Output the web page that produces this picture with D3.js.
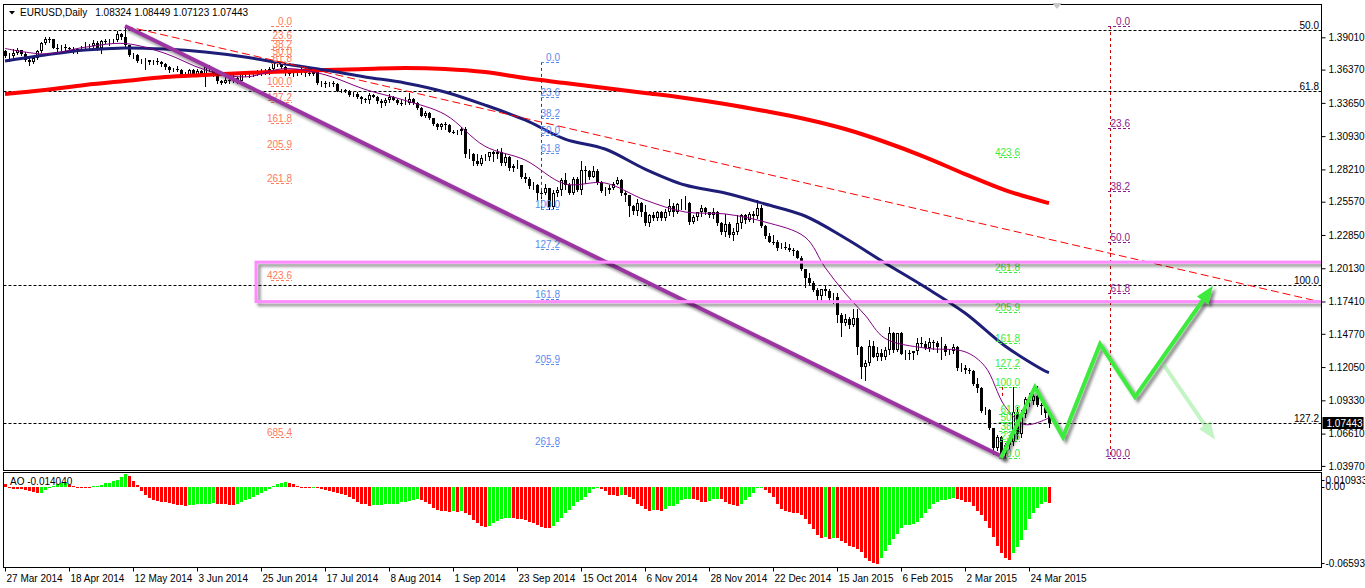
<!DOCTYPE html>
<html><head><meta charset="utf-8">
<script src="https://cdn.jsdelivr.net/npm/d3@7/dist/d3.min.js"></script>
<style>
html,body{margin:0;padding:0;background:#fff;}
svg{display:block;}
text{font-family:"Liberation Sans",Arial,sans-serif;font-size:10px;}
</style></head><body>
<svg id="c" width="1366" height="588"></svg>
<script>
// ---------------- DATA ----------------
const symbolTitle = "EURUSD,Daily";
const headerOHLC = ["1.08324","1.08449","1.07123","1.07443"];
const lastPrice = 1.07443;

const opens = [
1.3790,1.3745,1.3750,1.3770,1.3795,1.3765,1.3715,1.3700,1.3730,1.3790,
1.3855,1.3890,1.3885,1.3815,1.3812,1.3822,1.3815,1.3808,1.3790,1.3805,
1.3815,1.3825,1.3830,1.3855,1.3810,1.3870,1.3865,1.3872,1.3878,1.3925,
1.3905,1.3835,1.3755,1.3760,1.3705,1.3710,1.3712,1.3695,1.3710,1.3700,
1.3685,1.3660,1.3630,1.3640,1.3630,1.3595,1.3592,1.3635,1.3595,1.3625,
1.3600,1.3660,1.3640,1.3590,1.3545,1.3530,1.3548,1.3540,1.3570,1.3545,
1.3600,1.3610,1.3600,1.3605,1.3610,1.3620,1.3615,1.3645,1.3690,1.3680,
1.3655,1.3610,1.3605,1.3610,1.3615,1.3640,1.3610,1.3605,1.3615,1.3525,
1.3530,1.3522,1.3528,1.3520,1.3465,1.3468,1.3460,1.3430,1.3440,1.3410,
1.3395,1.3390,1.3430,1.3415,1.3380,1.3360,1.3385,1.3410,1.3390,1.3365,
1.3360,1.3365,1.3400,1.3365,1.3320,1.3260,1.3285,1.3240,1.3195,1.3165,
1.3195,1.3180,1.3130,1.3128,1.3135,1.3150,1.2945,1.2950,1.2890,1.2865,
1.2915,1.2925,1.2960,1.2950,1.2960,1.2870,1.2920,1.2830,1.2850,1.2855,
1.2760,1.2740,1.2685,1.2690,1.2630,1.2625,1.2665,1.2515,1.2630,1.2650,
1.2735,1.2690,1.2625,1.2745,1.2655,1.2820,1.2810,1.2760,1.2810,1.2715,
1.2645,1.2650,1.2670,1.2705,1.2735,1.2625,1.2610,1.2525,1.2480,1.2545,
1.2475,1.2380,1.2445,1.2420,1.2470,1.2420,1.2475,1.2525,1.2475,1.2535,
1.2540,1.2548,1.2390,1.2435,1.2470,1.2505,1.2470,1.2450,1.2470,1.2385,
1.2310,1.2375,1.2285,1.2310,1.2380,1.2445,1.2410,1.2460,1.2440,1.2505,
1.2360,1.2280,1.2230,1.2225,1.2180,1.2190,1.2180,1.2160,1.2155,1.2100,
1.2005,1.1935,1.1890,1.1835,1.1790,1.1840,1.1825,1.1770,1.1780,1.1630,
1.1565,1.1600,1.1545,1.1610,1.1365,1.1205,1.1240,1.1380,1.1290,1.1320,
1.1290,1.1345,1.1480,1.1345,1.1480,1.1315,1.1322,1.1318,1.1335,1.1400,
1.1390,1.1360,1.1410,1.1405,1.1370,1.1380,1.1325,1.1340,1.1365,1.1195,
1.1198,1.1185,1.1175,1.1070,1.1030,1.0845,1.0850,1.0705,1.0545,1.0635,
1.0495,1.0565,1.0595,1.0840,1.0660,1.0820,1.0940,1.0930,1.0970,1.0895,
1.0885,1.08324];
const highs = [
1.3800,1.3775,1.3805,1.3810,1.3800,1.3780,1.3735,1.3745,1.3800,1.3865,
1.3905,1.3905,1.3890,1.3850,1.3840,1.3850,1.3825,1.3820,1.3815,1.3830,
1.3860,1.3845,1.3875,1.3870,1.3880,1.3885,1.3890,1.3890,1.3950,1.3935,
1.3993,1.3840,1.3775,1.3765,1.3725,1.3735,1.3715,1.3715,1.3730,1.3705,
1.3690,1.3670,1.3650,1.3665,1.3640,1.3620,1.3640,1.3640,1.3640,1.3635,
1.3670,1.3675,1.3650,1.3600,1.3555,1.3575,1.3565,1.3590,1.3580,1.3610,
1.3615,1.3615,1.3615,1.3630,1.3645,1.3645,1.3660,1.3695,1.3700,1.3690,
1.3665,1.3615,1.3615,1.3630,1.3650,1.3650,1.3615,1.3625,1.3620,1.3545,
1.3545,1.3535,1.3540,1.3530,1.3480,1.3480,1.3470,1.3450,1.3450,1.3425,
1.3405,1.3445,1.3440,1.3420,1.3395,1.3405,1.3435,1.3420,1.3400,1.3385,
1.3410,1.3445,1.3405,1.3370,1.3330,1.3295,1.3290,1.3245,1.3200,1.3200,
1.3205,1.3190,1.3145,1.3140,1.3165,1.3165,1.2985,1.2955,1.2945,1.2940,
1.2945,1.2965,1.2975,1.2990,1.2995,1.2950,1.2930,1.2865,1.2895,1.2860,
1.2790,1.2755,1.2715,1.2700,1.2650,1.2700,1.2670,1.2650,1.2680,1.2750,
1.2790,1.2710,1.2760,1.2760,1.2887,1.2845,1.2815,1.2850,1.2825,1.2725,
1.2680,1.2695,1.2715,1.2760,1.2745,1.2645,1.2615,1.2530,1.2575,1.2555,
1.2530,1.2455,1.2475,1.2485,1.2480,1.2500,1.2575,1.2545,1.2545,1.2575,
1.2600,1.2555,1.2450,1.2475,1.2530,1.2515,1.2475,1.2505,1.2480,1.2395,
1.2455,1.2390,1.2345,1.2445,1.2460,1.2455,1.2475,1.2480,1.2570,1.2530,
1.2365,1.2300,1.2285,1.2245,1.2220,1.2230,1.2210,1.2180,1.2165,1.2110,
1.2010,1.1970,1.1905,1.1850,1.1845,1.1865,1.1840,1.1810,1.1810,1.1645,
1.1640,1.1615,1.1680,1.1680,1.1380,1.1260,1.1425,1.1420,1.1365,1.1350,
1.1365,1.1535,1.1490,1.1485,1.1490,1.1345,1.1345,1.1340,1.1440,1.1450,
1.1415,1.1440,1.1425,1.1420,1.1450,1.1390,1.1350,1.1390,1.1380,1.1240,
1.1225,1.1200,1.1180,1.1115,1.1040,1.0875,1.0860,1.0710,1.0650,1.0645,
1.0585,1.0640,1.1040,1.0880,1.0855,1.0960,1.0990,1.0990,1.1050,1.0915,
1.0895,1.08449];
const lows = [
1.3740,1.3705,1.3735,1.3765,1.3755,1.3705,1.3672,1.3690,1.3725,1.3780,
1.3845,1.3860,1.3810,1.3790,1.3800,1.3800,1.3800,1.3775,1.3770,1.3795,
1.3800,1.3815,1.3825,1.3800,1.3775,1.3855,1.3840,1.3860,1.3870,1.3885,
1.3830,1.3750,1.3735,1.3700,1.3690,1.3645,1.3680,1.3680,1.3685,1.3670,
1.3640,1.3615,1.3625,1.3625,1.3585,1.3585,1.3590,1.3585,1.3590,1.3590,
1.3503,1.3625,1.3585,1.3530,1.3520,1.3525,1.3530,1.3535,1.3530,1.3535,
1.3585,1.3580,1.3585,1.3595,1.3595,1.3600,1.3600,1.3640,1.3670,1.3650,
1.3595,1.3595,1.3585,1.3590,1.3600,1.3585,1.3590,1.3595,1.3520,1.3500,
1.3495,1.3500,1.3505,1.3460,1.3455,1.3450,1.3420,1.3420,1.3405,1.3365,
1.3375,1.3365,1.3410,1.3365,1.3335,1.3345,1.3375,1.3385,1.3355,1.3345,
1.3355,1.3355,1.3355,1.3315,1.3255,1.3250,1.3235,1.3180,1.3150,1.3155,
1.3150,1.3125,1.3115,1.3110,1.3110,1.2920,1.2915,1.2860,1.2860,1.2855,
1.2900,1.2900,1.2890,1.2915,1.2860,1.2860,1.2815,1.2810,1.2830,1.2750,
1.2720,1.2665,1.2660,1.2570,1.2585,1.2620,1.2500,1.2500,1.2600,1.2615,
1.2660,1.2620,1.2620,1.2645,1.2620,1.2710,1.2745,1.2755,1.2700,1.2640,
1.2615,1.2630,1.2660,1.2700,1.2615,1.2565,1.2440,1.2455,1.2445,1.2440,
1.2370,1.2358,1.2410,1.2405,1.2405,1.2410,1.2445,1.2440,1.2465,1.2500,
1.2500,1.2375,1.2380,1.2405,1.2440,1.2460,1.2430,1.2420,1.2365,1.2290,
1.2280,1.2270,1.2245,1.2295,1.2340,1.2380,1.2400,1.2395,1.2425,1.2350,
1.2260,1.2225,1.2210,1.2165,1.2175,1.2170,1.2155,1.2125,1.2095,1.2000,
1.1860,1.1880,1.1830,1.1755,1.1755,1.1795,1.1755,1.1730,1.1570,1.1460,
1.1550,1.1525,1.1540,1.1315,1.1115,1.1098,1.1220,1.1285,1.1260,1.1260,
1.1270,1.1315,1.1330,1.1335,1.1310,1.1270,1.1270,1.1270,1.1310,1.1375,
1.1350,1.1340,1.1350,1.1330,1.1275,1.1305,1.1315,1.1320,1.1185,1.1175,
1.1160,1.1160,1.1060,1.1000,1.0840,1.0820,1.0700,1.0495,1.0525,1.0490,
1.0462,1.0545,1.0570,1.0615,1.0630,1.0800,1.0890,1.0900,1.0890,1.0820,
1.0800,1.07123];
const closes = [
1.3745,1.3750,1.3770,1.3795,1.3765,1.3715,1.3700,1.3730,1.3790,1.3855,
1.3890,1.3885,1.3815,1.3812,1.3822,1.3815,1.3808,1.3790,1.3805,1.3815,
1.3825,1.3830,1.3855,1.3810,1.3870,1.3865,1.3872,1.3878,1.3925,1.3905,
1.3835,1.3755,1.3760,1.3705,1.3710,1.3712,1.3695,1.3710,1.3700,1.3685,
1.3660,1.3630,1.3640,1.3630,1.3595,1.3592,1.3635,1.3595,1.3625,1.3600,
1.3660,1.3640,1.3590,1.3545,1.3530,1.3548,1.3540,1.3570,1.3545,1.3600,
1.3610,1.3600,1.3605,1.3610,1.3620,1.3615,1.3645,1.3690,1.3680,1.3655,
1.3610,1.3605,1.3610,1.3615,1.3640,1.3610,1.3605,1.3615,1.3525,1.3530,
1.3522,1.3528,1.3520,1.3465,1.3468,1.3460,1.3430,1.3440,1.3410,1.3395,
1.3390,1.3430,1.3415,1.3380,1.3360,1.3385,1.3410,1.3390,1.3365,1.3360,
1.3365,1.3400,1.3365,1.3320,1.3260,1.3285,1.3240,1.3195,1.3165,1.3195,
1.3180,1.3130,1.3128,1.3135,1.3150,1.2945,1.2950,1.2890,1.2865,1.2915,
1.2925,1.2960,1.2950,1.2960,1.2870,1.2920,1.2830,1.2850,1.2855,1.2760,
1.2740,1.2685,1.2690,1.2630,1.2625,1.2665,1.2515,1.2630,1.2650,1.2735,
1.2690,1.2625,1.2745,1.2655,1.2820,1.2810,1.2760,1.2810,1.2715,1.2645,
1.2650,1.2670,1.2705,1.2735,1.2625,1.2610,1.2525,1.2480,1.2545,1.2475,
1.2380,1.2445,1.2420,1.2470,1.2420,1.2475,1.2525,1.2475,1.2535,1.2540,
1.2548,1.2390,1.2435,1.2470,1.2505,1.2470,1.2450,1.2470,1.2385,1.2310,
1.2375,1.2285,1.2310,1.2380,1.2445,1.2410,1.2460,1.2440,1.2505,1.2360,
1.2280,1.2230,1.2225,1.2180,1.2190,1.2180,1.2160,1.2155,1.2100,1.2005,
1.1935,1.1890,1.1835,1.1790,1.1840,1.1825,1.1770,1.1780,1.1630,1.1565,
1.1600,1.1545,1.1610,1.1365,1.1205,1.1240,1.1380,1.1290,1.1320,1.1290,
1.1345,1.1480,1.1345,1.1480,1.1315,1.1322,1.1318,1.1335,1.1400,1.1390,
1.1360,1.1410,1.1405,1.1370,1.1380,1.1325,1.1340,1.1365,1.1195,1.1198,
1.1185,1.1175,1.1070,1.1030,1.0845,1.0850,1.0705,1.0545,1.0635,1.0495,
1.0565,1.0595,1.0840,1.0660,1.0820,1.0940,1.0930,1.0970,1.0895,1.0885,
1.0832,1.07443];

// Awesome Oscillator values (one per bar)
const aoValues = [
0.0026,-0.0012,-0.0015,-0.0017,-0.0023,-0.0029,-0.0040,-0.0046,-0.0051,-0.0049,
-0.0026,-0.0009,0.0011,0.0020,0.0029,0.0034,0.0017,0.0003,-0.0003,-0.0004,
-0.0005,-0.0006,0.0005,0.0011,0.0017,0.0029,0.0034,0.0046,0.0060,0.0082,
0.0109,0.0090,0.0050,0.0012,-0.0040,-0.0068,-0.0094,-0.0111,-0.0120,-0.0126,
-0.0131,-0.0140,-0.0148,-0.0154,-0.0157,-0.0160,-0.0157,-0.0154,-0.0151,-0.0148,
-0.0146,-0.0143,-0.0140,-0.0143,-0.0148,-0.0151,-0.0154,-0.0156,-0.0146,-0.0134,
-0.0117,-0.0100,-0.0083,-0.0066,-0.0049,-0.0034,-0.0020,0.0003,0.0020,0.0031,
0.0040,0.0034,0.0020,0.0009,0.0002,-0.0002,-0.0003,-0.0001,-0.0004,-0.0017,
-0.0029,-0.0037,-0.0046,-0.0054,-0.0063,-0.0074,-0.0091,-0.0108,-0.0126,-0.0143,
-0.0151,-0.0160,-0.0159,-0.0154,-0.0152,-0.0151,-0.0150,-0.0149,-0.0143,-0.0128,
-0.0126,-0.0120,-0.0111,-0.0106,-0.0117,-0.0134,-0.0151,-0.0177,-0.0194,-0.0203,
-0.0205,-0.0211,-0.0208,-0.0211,-0.0203,-0.0220,-0.0245,-0.0280,-0.0305,-0.0331,
-0.0340,-0.0331,-0.0305,-0.0288,-0.0274,-0.0265,-0.0263,-0.0265,-0.0271,-0.0274,
-0.0283,-0.0297,-0.0305,-0.0325,-0.0342,-0.0348,-0.0351,-0.0331,-0.0297,-0.0263,
-0.0228,-0.0194,-0.0168,-0.0134,-0.0117,-0.0083,-0.0049,-0.0020,-0.0011,-0.0020,
-0.0040,-0.0068,-0.0074,-0.0077,-0.0068,-0.0074,-0.0086,-0.0108,-0.0143,-0.0168,
-0.0186,-0.0203,-0.0194,-0.0197,-0.0205,-0.0186,-0.0168,-0.0160,-0.0143,-0.0117,
-0.0103,-0.0100,-0.0108,-0.0117,-0.0126,-0.0128,-0.0124,-0.0103,-0.0100,-0.0108,
-0.0126,-0.0143,-0.0157,-0.0163,-0.0143,-0.0117,-0.0091,-0.0049,-0.0014,-0.0006,
-0.0031,-0.0057,-0.0091,-0.0143,-0.0186,-0.0203,-0.0211,-0.0220,-0.0223,-0.0237,
-0.0271,-0.0314,-0.0357,-0.0408,-0.0434,-0.0431,-0.0442,-0.0434,-0.0437,-0.0459,
-0.0477,-0.0502,-0.0511,-0.0528,-0.0554,-0.0605,-0.0631,-0.0654,-0.065934,-0.0605,
-0.0545,-0.0494,-0.0442,-0.0400,-0.0348,-0.0325,-0.0322,-0.0314,-0.0297,-0.0263,
-0.0228,-0.0186,-0.0151,-0.0126,-0.0117,-0.0111,-0.0108,-0.0094,-0.0100,-0.0117,
-0.0126,-0.0134,-0.0168,-0.0203,-0.0237,-0.0288,-0.0348,-0.0425,-0.0502,-0.0562,
-0.0605,-0.0622,-0.0562,-0.0511,-0.0451,-0.0365,-0.0271,-0.0228,-0.0177,-0.0143,
-0.0134,-0.014040];
const aoLabel = "AO -0.014040";
const aoTickValues = [0.010933, 0, -0.065934];
const aoTickLabels = ["0.010933", "0.00", "-0.065934"];

// Moving averages (read at sampled bars)
const maBars = [0,10,20,30,40,50,60,70,80,90,100,110,120,130,140,150,160,170,180,190,200,210,220,230,240,250,260,261];
const maSlow = [1.3437,1.3470,1.3511,1.3544,1.3576,1.3593,1.3609,1.3621,1.3634,1.3642,1.3650,1.3642,1.3617,1.3568,1.3527,1.3486,1.3446,1.3405,1.3356,1.3298,1.3233,1.3151,1.3045,1.2922,1.2783,1.2652,1.2554,1.2546];
const maMid  = [1.3707,1.3756,1.3797,1.3814,1.3805,1.3781,1.3740,1.3683,1.3634,1.3577,1.3528,1.3454,1.3347,1.3225,1.3069,1.2988,1.2824,1.2693,1.2628,1.2538,1.2440,1.2260,1.2056,1.1859,1.1647,1.1377,1.1173,1.1160];
const maFastBars = [0,10,20,30,40,50,60,70,80,90,100,110,120,130,140,150,160,170,180,190,200,205,210,215,220,230,240,245,250,255,261];
const maFast = [1.3810,1.3765,1.3820,1.3850,1.3770,1.3635,1.3577,1.3645,1.3595,1.3475,1.3385,1.3270,1.3010,1.2898,1.2702,1.2710,1.2571,1.2473,1.2457,1.2391,1.2268,1.2020,1.1810,1.1630,1.1440,1.1360,1.1330,1.1210,1.0884,1.0735,1.0790];

// Axis labels
const priceTicks = [1.39010,1.36370,1.33650,1.30930,1.28210,1.25570,1.22850,1.20130,1.17410,1.14770,1.12050,1.09330,1.06610,1.03970];
const dateTickBars = [0,16,32,48,64,80,96,112,128,144,160,176,192,208,224,240,256];
const dateTicks = ["27 Mar 2014","18 Apr 2014","12 May 2014","3 Jun 2014","25 Jun 2014","17 Jul 2014","8 Aug 2014","1 Sep 2014","23 Sep 2014","15 Oct 2014","6 Nov 2014","28 Nov 2014","22 Dec 2014","15 Jan 2015","6 Feb 2015","2 Mar 2015","24 Mar 2015"];

// Fibonacci objects: level-0 price, level-100 price, bar span, levels, colour
const fibOrange = {p0:1.3993, p100:1.3503, bars:[66.5,71.75], levels:[0,23.6,38.2,50,61.8,100,127.2,161.8,205.9,261.8,423.6,685.4], color:"#FF7A5C"};
const fibBlue   = {p0:1.3700, p100:1.2500, bars:[134,138.75], levels:[0,23.6,38.2,50,61.8,100,127.2,161.8,205.9,261.8], color:"#5A8CF0", anchorBar:134};
const fibGreen  = {p0:1.0462, p100:1.1043, bars:[248.5,253.75], levels:[0,23.6,38.2,50,61.8,100,127.2,161.8,205.9,261.8,423.6], color:"#3CEB3C", anchorBar:249.25, anchorFrom:1.1043, anchorTo:1.0968};
const fibPurple = {p0:1.3993, p100:1.0462, bars:[275.75,281.25], levels:[0,23.6,38.2,50,61.8,100], color:"#8B1A8B", anchorBar:276.25};
const fibBlack  = {p0:1.6038, p100:1.1876, levels:[50,61.8,100,127.2], color:"#000"};

// Drawn objects (bar, price)
const purpleTrend = [[30,1.3993],[250,1.0462]];
const redTrend = [[30,1.3993],[329,1.1737]];
const zoneBars = [62.75,329.5];
const zonePrices = [1.2063,1.1740];
const zigzag = [[249,1.0462],[257.5,1.1042],[264.5,1.0633],[273.75,1.1394],[282.5,1.0961],[302,1.1869]];
const fadedArrow = [[289.5,1.1231],[302.5,1.0610]];

// ---------------- DRAW ----------------
const svg = d3.select('#c');
const P = {l:3.5, r:1321.5, t:4.5, b:470.5};
const A = {t:472.5, b:567.5};
const x = d3.scaleLinear().domain([0,261]).range([5,1049]);
const y = d3.scaleLinear().domain([1.3901,1.0397]).range([37.3,465.9]);
const yA = d3.scaleLinear().domain([0.010933,-0.065934]).range([474,564]);
const crisp = v => Math.round(v)+0.5;

svg.append('rect').attr('width',1366).attr('height',588).attr('fill','#fff');
const defs = svg.append('defs');
defs.append('clipPath').attr('id','cm').append('rect').attr('x',P.l).attr('y',P.t).attr('width',P.r-P.l).attr('height',P.b-P.t);
defs.append('clipPath').attr('id','ca').append('rect').attr('x',P.l).attr('y',A.t).attr('width',P.r-P.l).attr('height',A.b-A.t);
const f = defs.append('filter').attr('id','sh').attr('x','-20%').attr('y','-20%').attr('width','140%').attr('height','140%');
f.append('feDropShadow').attr('dx',3).attr('dy',3).attr('stdDeviation',1.8).attr('flood-color','#000').attr('flood-opacity',0.45);

const gm = svg.append('g').attr('clip-path','url(#cm)');

// black fib full-width lines
fibBlack.levels.forEach(l => {
  const p = fibBlack.p0 - l/100*(fibBlack.p0-fibBlack.p100);
  const yy = crisp(y(p));
  gm.append('line').attr('x1',P.l).attr('x2',P.r).attr('y1',yy).attr('y2',yy)
    .attr('stroke','#000').attr('stroke-dasharray','3,2');
  gm.append('text').attr('x',1319).attr('y',yy-2).attr('text-anchor','end').attr('fill','#000').text(d3.format('.1f')(l));
});

// candles
const idx = d3.range(closes.length);
const gc = gm.append('g');
idx.forEach(i => {
  const cx = Math.round(x(i));
  const o = opens[i], c = closes[i];
  gc.append('line').attr('x1',cx+0.5).attr('x2',cx+0.5).attr('y1',Math.round(y(highs[i]))).attr('y2',Math.round(y(lows[i]))+1).attr('stroke','#000');
  const yt = Math.round(y(Math.max(o,c))), yb = Math.round(y(Math.min(o,c)));
  const h = Math.max(1, yb-yt);
  if (c > o) {
    gc.append('rect').attr('x',cx-0.5).attr('y',yt+0.5).attr('width',2).attr('height',Math.max(0,h-1)).attr('fill','#fff').attr('stroke','#000');
  } else {
    gc.append('rect').attr('x',cx-1).attr('y',yt).attr('width',3).attr('height',h).attr('fill','#000');
  }
});

// moving averages
const lineMA = d3.line().curve(d3.curveCatmullRom.alpha(0.5));
gm.append('path').attr('d',lineMA(maBars.map((b,k)=>[x(b),y(maSlow[k])]))).attr('fill','none').attr('stroke','#FF0000').attr('stroke-width',4);
gm.append('path').attr('d',lineMA(maBars.map((b,k)=>[x(b),y(maMid[k])]))).attr('fill','none').attr('stroke','#1E1E78').attr('stroke-width',3);
gm.append('path').attr('d',lineMA(maFastBars.map((b,k)=>[x(b),y(maFast[k])]))).attr('fill','none').attr('stroke','#800080').attr('stroke-width',1);

// fibonacci objects
function drawFib(fb) {
  const x1 = x(fb.bars[0]), x2 = x(fb.bars[1]);
  if (fb.anchorBar !== undefined) {
    const ax = crisp(x(fb.anchorBar));
    const from = fb.anchorFrom !== undefined ? fb.anchorFrom : fb.p0;
    const to = fb.anchorTo !== undefined ? fb.anchorTo : fb.p100;
    gm.append('line').attr('x1',ax).attr('x2',ax).attr('y1',y(from)).attr('y2',y(to))
      .attr('stroke','#D00000').attr('stroke-dasharray','3,3');
  }
  fb.levels.forEach(l => {
    const p = fb.p0 + l/100*(fb.p100-fb.p0);
    const yy = crisp(y(p));
    gm.append('line').attr('x1',x1).attr('x2',x2).attr('y1',yy).attr('y2',yy).attr('stroke',fb.color).attr('stroke-dasharray','3,2');
    gm.append('text').attr('x',x2).attr('y',yy-2).attr('text-anchor','end').attr('fill',fb.color).text(d3.format('.1f')(l));
  });
}
drawFib(fibOrange); drawFib(fibBlue); drawFib(fibGreen); drawFib(fibPurple);

// red dashed trend line
gm.append('line').attr('x1',x(redTrend[0][0])).attr('y1',y(redTrend[0][1])).attr('x2',x(redTrend[1][0])).attr('y2',y(redTrend[1][1]))
  .attr('stroke','#FF0000').attr('stroke-dasharray','8,4');

// purple trend line
gm.append('line').attr('x1',x(purpleTrend[0][0])).attr('y1',y(purpleTrend[0][1])).attr('x2',x(purpleTrend[1][0])).attr('y2',y(purpleTrend[1][1]))
  .attr('stroke','#9A35A2').attr('stroke-width',4).attr('filter','url(#sh)');

// pink zone rectangle
gm.append('rect').attr('x',x(zoneBars[0])).attr('y',y(zonePrices[0])).attr('width',x(zoneBars[1])-x(zoneBars[0])).attr('height',y(zonePrices[1])-y(zonePrices[0]))
  .attr('fill','none').attr('stroke','#FF8CFF').attr('stroke-width',3).attr('filter','url(#sh)');

// arrows
function arrowHead(p1,p2,len,half){
  const dx=p2[0]-p1[0], dy=p2[1]-p1[1], L=Math.hypot(dx,dy), ux=dx/L, uy=dy/L;
  const bx=p2[0]-ux*len, by=p2[1]-uy*len;
  return [[p2[0],p2[1]],[bx-uy*half,by+ux*half],[bx+uy*half,by-ux*half]];
}
const zz = zigzag.map(d=>[x(d[0]),y(d[1])]);
const gz = gm.append('g').attr('filter','url(#sh)');
const n = zz.length;
const zzLine = zz.slice(0,-1).concat([[zz[n-1][0]-(zz[n-1][0]-zz[n-2][0])*0.08, zz[n-1][1]-(zz[n-1][1]-zz[n-2][1])*0.08]]);
gz.append('path').attr('d',d3.line()(zzLine)).attr('fill','none').attr('stroke','#3CEB3C').attr('stroke-width',4).attr('stroke-linejoin','miter');
gz.append('polygon').attr('points',arrowHead(zz[n-2],zz[n-1],18,7).join(' ')).attr('fill','#3CEB3C');
const fa = fadedArrow.map(d=>[x(d[0]),y(d[1])]);
const gf = gm.append('g').attr('opacity',0.45);
gf.append('line').attr('x1',fa[0][0]).attr('y1',fa[0][1]).attr('x2',fa[0][0]+(fa[1][0]-fa[0][0])*0.85).attr('y2',fa[0][1]+(fa[1][1]-fa[0][1])*0.85).attr('stroke','#7CE87C').attr('stroke-width',4);
gf.append('polygon').attr('points',arrowHead(fa[0],fa[1],18,7).join(' ')).attr('fill','#7CE87C');

// AO panel
const ga = svg.append('g').attr('clip-path','url(#ca)');
idx.forEach(i => {
  const v = aoValues[i];
  const up = i>0 && v > aoValues[i-1];
  const y0 = yA(0), y1 = yA(v);
  const top = Math.round(Math.min(y0,y1)), bot = Math.round(Math.max(y0,y1));
  ga.append('rect').attr('x',Math.round(x(i))-1).attr('y',top).attr('width',3).attr('height',Math.max(1,bot-top))
    .attr('fill', up ? '#00FF00' : '#FF0000');
});
svg.append('text').attr('x',10).attr('y',485).attr('fill','#000').text(aoLabel);

// frames
svg.append('rect').attr('x',P.l).attr('y',P.t).attr('width',P.r-P.l).attr('height',P.b-P.t).attr('fill','none').attr('stroke','#000');
svg.append('rect').attr('x',P.l).attr('y',A.t).attr('width',P.r-P.l).attr('height',A.b-A.t).attr('fill','none').attr('stroke','#000');

// price axis
const ax = svg.append('g').attr('transform',`translate(${P.r},0)`)
  .call(d3.axisRight(y).tickValues(priceTicks).tickFormat(d3.format('.5f')).tickSize(4).tickPadding(3));
ax.select('.domain').remove();
ax.selectAll('text').attr('font-size',10).attr('font-family','"Liberation Sans",Arial,sans-serif').attr('fill','#000');
ax.selectAll('line').attr('stroke','#000');

// current price label
const yl = y(lastPrice);
svg.append('rect').attr('x',P.r+1).attr('y',Math.round(yl)-6).attr('width',41).attr('height',12).attr('fill','#000');
svg.append('text').attr('x',P.r+5).attr('y',Math.round(yl)+4).attr('fill','#fff').text(d3.format('.5f')(lastPrice));

// AO axis
aoTickValues.forEach((v,k) => {
  let yy = yA(v);
  if (k===0) yy += 6;
  if (k===2) yy -= 1;
  svg.append('line').attr('x1',P.r).attr('x2',P.r+3).attr('y1',crisp(yy)).attr('y2',crisp(yy)).attr('stroke','#000');
  svg.append('text').attr('x',P.r+4).attr('y',yy+3.5).attr('font-size',9.3).attr('fill','#000').text(aoTickLabels[k]);
});

// date axis
const bx = svg.append('g').attr('transform',`translate(0,${A.b})`)
  .call(d3.axisBottom(x).tickValues(dateTickBars).tickFormat((d,k)=>dateTicks[k]).tickSize(4).tickPadding(3));
bx.select('.domain').remove();
bx.selectAll('text').attr('text-anchor','start').attr('dx',1).attr('font-size',10).attr('font-family','"Liberation Sans",Arial,sans-serif').attr('fill','#000');
bx.selectAll('line').attr('stroke','#000');

// header
svg.append('polygon').attr('points','9,11 15,11 12,14.5').attr('fill','#000');
const ht = svg.append('text').attr('x',20).attr('y',16).attr('fill','#000');
ht.append('tspan').text(symbolTitle);
ht.append('tspan').attr('dx',8).text(headerOHLC.join(' '));

// small grey marker at top
svg.append('polygon').attr('points','1052,3 1062,3 1057,9').attr('fill','#C8C8C8');

// window edge
svg.append('rect').attr('x',1365).attr('y',0).attr('width',1).attr('height',588).attr('fill','#D8D8D8');
</script>
</body></html>
